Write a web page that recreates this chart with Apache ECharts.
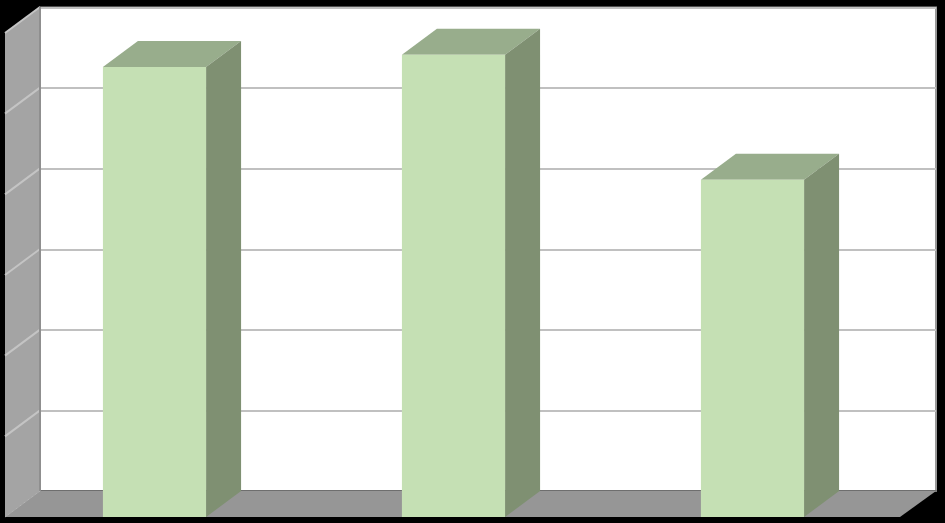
<!DOCTYPE html>
<html>
<head>
<meta charset="utf-8">
<style>html,body{margin:0;padding:0;background:#000}#c{width:945px;height:523px}</style>
<script src="https://cdn.jsdelivr.net/npm/echarts@6/dist/echarts.min.js"></script>
</head>
<body>
<div id="c"></div>
<script>
const categories = ['1', '2', '3'];
const values = [5.58, 5.73, 4.18];
const yTicks = [0, 1, 2, 3, 4, 5, 6];
const yMin = 0, yMax = 6, yStep = 1;
const depthX = 35, depthY = 26;
const frontColor = '#c5e0b4', topColor = '#98ad8c', sideColor = '#7f9072';

const chart = echarts.init(document.getElementById('c'), null, {renderer: 'canvas'});

function poly(points, fill, extra) {
  return Object.assign({type: 'polygon', shape: {points}, style: {fill}, silent: true}, extra || {});
}
function seg(x1, y1, x2, y2, stroke, w) {
  return {type: 'line', shape: {x1, y1, x2, y2}, style: {stroke, lineWidth: w}, silent: true};
}

chart.setOption({
  animation: false,
  backgroundColor: '#000000',
  grid: [
    {left: 40, right: 9, top: 7.5, bottom: 32, show: true, backgroundColor: '#ffffff', borderColor: '#999999', borderWidth: 2},
    {left: 5, right: 43, top: 33, bottom: 6}
  ],
  xAxis: [
    {gridIndex: 0, type: 'category', data: categories, axisLine: {show: true, lineStyle: {color: '#6e6e6e', width: 2}}, axisTick: {show: false}, axisLabel: {show: false}},
    {gridIndex: 1, type: 'category', data: categories, axisLine: {show: false}, axisTick: {show: false}, axisLabel: {show: false}}
  ],
  yAxis: [
    {gridIndex: 0, type: 'value', min: yMin, max: yMax, interval: yStep, axisLine: {show: false}, axisTick: {show: false}, axisLabel: {show: false},
      splitLine: {show: true, lineStyle: {color: '#c0c0c0', width: 2}}},
    {gridIndex: 1, type: 'value', min: yMin, max: yMax, interval: yStep, axisLine: {show: false}, axisTick: {show: false}, axisLabel: {show: false}, splitLine: {show: false}}
  ],
  series: [
    {
      type: 'custom', xAxisIndex: 1, yAxisIndex: 1, silent: true, clip: false, z: 3,
      data: [[0]],
      renderItem(params, api) {
        const cs = params.coordSys;
        const l = cs.x, r = cs.x + cs.width, t = cs.y, b = cs.y + cs.height;
        const children = [
          poly([[l, b], [l + depthX, b - depthY], [r + depthX - 1, b - depthY], [r - 2, b]], '#969696'),
          poly([[l, t], [l + depthX, t - depthY], [l + depthX, b - depthY], [l, b]], '#a4a4a4')
        ];
        yTicks.slice(1).forEach(v => {
          const y = api.coord([0, v])[1];
          children.push(seg(l, y, l + depthX, y - depthY, '#c4c4c4', 2));
        });
        children.push(seg(l, b, l + depthX, b - depthY, '#b4b4b4', 1));
        children.push(seg(l + depthX, t - depthY, l + depthX, b - depthY, '#8f8f8f', 2));
        return {type: 'group', children};
      }
    },
    {
      type: 'custom', xAxisIndex: 1, yAxisIndex: 1, silent: true, clip: false, z: 4,
      encode: {x: 0, y: 1},
      data: values.map((v, i) => [categories[i], v]),
      renderItem(params, api) {
        const top = api.coord([api.value(0), api.value(1)]);
        const base = api.coord([api.value(0), 0]);
        const w = api.size([1, 0])[0] * 0.345;
        const x0 = top[0] - w / 2, x1 = top[0] + w / 2, yT = top[1], yB = base[1];
        return {type: 'group', children: [
          poly([[x0, yT], [x0 + depthX, yT - depthY], [x1 + depthX, yT - depthY], [x1, yT]], topColor),
          poly([[x1, yT], [x1 + depthX, yT - depthY], [x1 + depthX, yB - depthY], [x1, yB]], sideColor),
          poly([[x0, yT], [x1, yT], [x1, yB], [x0, yB]], frontColor)
        ]};
      }
    }
  ]
});
</script>
</body>
</html>
